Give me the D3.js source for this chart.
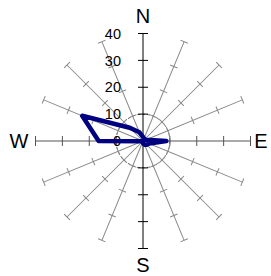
<!DOCTYPE html>
<html>
<head>
<meta charset="utf-8">
<script src="https://cdn.jsdelivr.net/npm/d3@7"></script>
<style>
  body { margin: 0; background: #fff; }
  svg { display: block; }
  text { font-family: "Liberation Sans", Arial, sans-serif; }
</style>
</head>
<body>
<div id="chart"></div>
<script>
// data
var directions = ["N", "NNE", "NE", "ENE", "E", "ESE", "SE", "SSE",
                  "S", "SSW", "SW", "WSW", "W", "WNW", "NW", "NNW"];
var frequency = [1.5, 1, 1, 1.2, 8.7, 2.5, 2, 1.5,
                 0.8, 0.5, 0.3, 0.3, 16.5, 24.5, 7, 3.5];
var ticks = [10, 20, 30, 40];
var tickLabels = ["0", "10", "20", "30", "40"];
var compass = ["N", "E", "S", "W"];

var width = 271;
var height = 276;
var cx = 143, cy = 141;

var r = d3.scaleLinear().domain([0, 40]).range([0, 107.5]);
var angle = d3.scaleLinear().domain([0, directions.length]).range([0, 2 * Math.PI]);

var svg = d3.select("#chart").append("svg")
    .attr("width", width)
    .attr("height", height);

var g = svg.append("g")
    .attr("transform", "translate(" + cx + "," + cy + ")");

// dashed ring at 10
g.append("circle")
    .attr("r", r(10))
    .attr("fill", "none")
    .attr("stroke", "#666")
    .attr("stroke-width", 1)
    .attr("stroke-dasharray", "3,2");

// spokes (diagonals first, then main axes on top)
var spokes = directions.map(function (d, i) { return i; });
spokes.sort(function (a, b) { return (a % 4 === 0) - (b % 4 === 0); });

spokes.forEach(function (i) {
    var main = i % 4 === 0;
    var vertical = i % 8 === 0;
    var col = vertical ? "#000" : (main ? "#555" : "#888");
    var sg = g.append("g")
        .attr("transform", "rotate(" + (angle(i) * 180 / Math.PI) + ")");
    sg.append("line")
        .attr("x1", 0).attr("y1", 0)
        .attr("x2", 0).attr("y2", -r(40))
        .attr("stroke", col)
        .attr("stroke-width", 1);
    var half = main ? 5 : 4;
    sg.selectAll("line.tick")
        .data(ticks)
        .enter().append("line")
        .attr("class", "tick")
        .attr("x1", -half).attr("x2", half)
        .attr("y1", function (d) { return -r(d); })
        .attr("y2", function (d) { return -r(d); })
        .attr("stroke", col)
        .attr("stroke-width", 1);
});

// radial tick labels
g.selectAll("text.lbl")
    .data(tickLabels)
    .enter().append("text")
    .attr("class", "lbl")
    .attr("x", -22)
    .attr("y", function (d) { return -r(+d); })
    .attr("dy", "0.36em")
    .attr("text-anchor", "end")
    .attr("font-size", 14.5)
    .attr("fill", "#000")
    .text(function (d) { return d; });

// wind rose line
var line = d3.lineRadial()
    .angle(function (d, i) { return angle(i); })
    .radius(function (d) { return r(d); })
    .curve(d3.curveLinearClosed);

g.append("path")
    .datum(frequency)
    .attr("d", line)
    .attr("fill", "none")
    .attr("stroke", "#000080")
    .attr("stroke-width", 4.5)
    .attr("stroke-linejoin", "round");

// compass labels
var compassPos = [[0, -125], [118, 0], [0, 124], [-124, 0]];
g.selectAll("text.dir")
    .data(compass)
    .enter().append("text")
    .attr("class", "dir")
    .attr("x", function (d, i) { return compassPos[i][0]; })
    .attr("y", function (d, i) { return compassPos[i][1]; })
    .attr("dy", "0.36em")
    .attr("text-anchor", "middle")
    .attr("font-size", 20)
    .attr("fill", "#000")
    .text(function (d) { return d; });
</script>
</body>
</html>
